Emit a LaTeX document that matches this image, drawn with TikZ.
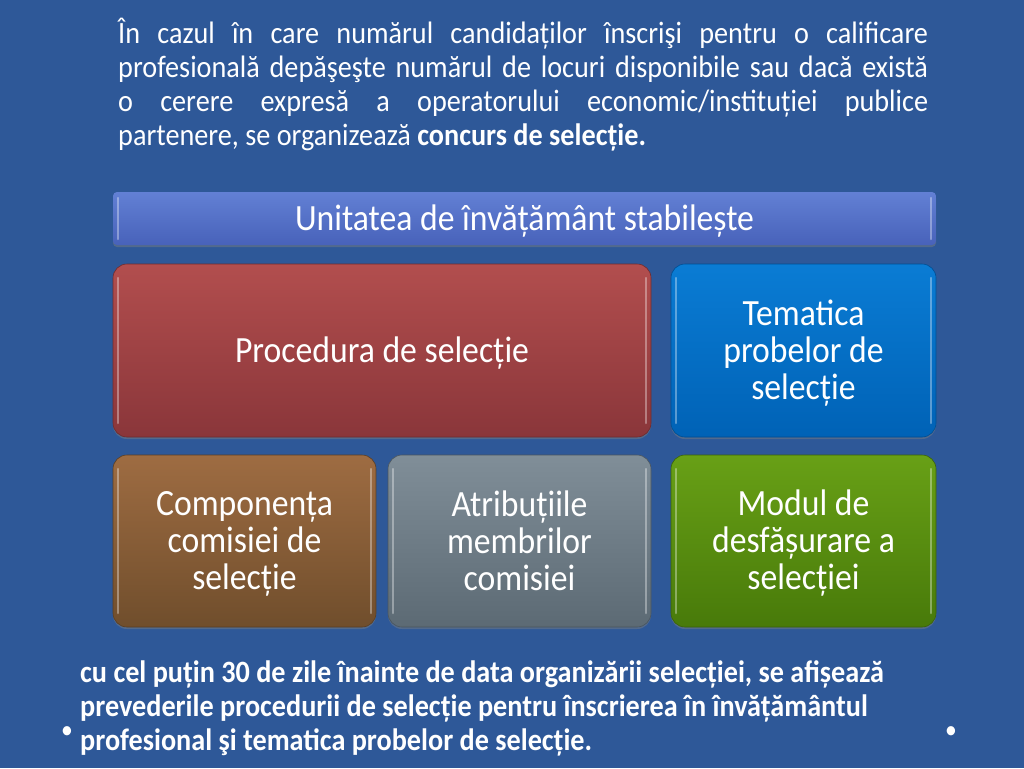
\documentclass[tikz,border=0pt]{standalone}
\usepackage{fontspec}
\setmainfont{Carlito}[FakeStretch=0.91]
\usetikzlibrary{shadows}
\newcommand{\topstr}{\rule{0pt}{30pt}}
\newcommand{\botstr}{\rule[-6pt]{0pt}{6pt}}
\newcommand{\onestr}{\rule[-6pt]{0pt}{36pt}}
\definecolor{bg}{RGB}{46,88,152}
\definecolor{hdrT}{RGB}{98,128,212}
\definecolor{hdrB}{RGB}{72,98,186}
\definecolor{redT}{RGB}{178,78,78}
\definecolor{redB}{RGB}{138,54,58}
\definecolor{bluT}{RGB}{10,124,212}
\definecolor{bluB}{RGB}{0,98,182}
\definecolor{brnT}{RGB}{158,108,66}
\definecolor{brnB}{RGB}{112,78,44}
\definecolor{gryT}{RGB}{128,142,152}
\definecolor{gryB}{RGB}{92,106,116}
\definecolor{grnT}{RGB}{104,160,22}
\definecolor{grnB}{RGB}{72,122,10}
\tikzset{
  glint/.style={path picture={
    \draw[white, opacity=0.35, line width=2.5pt, line cap=round]
      ([xshift=5pt,yshift=-#1]path picture bounding box.north west) --
      ([xshift=5pt,yshift=#1]path picture bounding box.south west);
    \draw[white, opacity=0.35, line width=2.5pt, line cap=round]
      ([xshift=-5pt,yshift=-#1]path picture bounding box.north east) --
      ([xshift=-5pt,yshift=#1]path picture bounding box.south east);}},
  boxbase/.style={rectangle, rounded corners=14pt, text=white, align=center,
    font=\fontsize{37}{37}\selectfont, inner sep=0pt, glint=14pt,
    drop shadow={opacity=0.45, shadow xshift=0pt, shadow yshift=-2pt}},
  hdrbox/.style={boxbase, rounded corners=4pt, top color=hdrT, bottom color=hdrB,
    minimum width=823pt, minimum height=53pt, glint=6pt},
  redbox/.style={boxbase, top color=redT, bottom color=redB, draw=redB!80!black, line width=0.6pt},
  blubox/.style={boxbase, top color=bluT, bottom color=bluB, draw=bluB!80!black, line width=0.6pt},
  brnbox/.style={boxbase, top color=brnT, bottom color=brnB, draw=brnB!80!black, line width=0.6pt},
  grybox/.style={boxbase, top color=gryT, bottom color=gryB, draw=gryB!80!black, line width=0.6pt},
  grnbox/.style={boxbase, top color=grnT, bottom color=grnB, draw=grnB!80!black, line width=0.6pt},
  para/.style={text=white, inner sep=0pt, anchor=north west}
}
\begin{document}
\begin{tikzpicture}[x=1pt,y=-1pt]
\fill[bg] (0,0) rectangle (1024,768);
\useasboundingbox (0,0) rectangle (1024,768);
\node[para, text width=810pt, align=justify, font=\fontsize{31}{34}\selectfont] (top) at (118,13)
 {\hyphenpenalty=10000\rule{0pt}{30pt}În cazul în care numărul candidaților înscrişi pentru o calificare\linebreak profesională depăşeşte numărul de locuri disponibile sau dacă există\linebreak o cerere expresă a operatorului economic/instituției publice\linebreak partenere, se organizează \textbf{concurs de selecție.}};
\node[hdrbox] (hdr) at (524.5,218.5) {\onestr Unitatea de învățământ stabilește};
\node[redbox, minimum width=538pt, minimum height=173pt] (proc) at (382,350.5) {\onestr Procedura de selecție};
\node[blubox, minimum width=265pt, minimum height=173pt] (tem) at (803.5,350.5) {\topstr Tematica\\probelor de\\selecție\botstr};
\node[brnbox, minimum width=263pt, minimum height=172pt] (comp) at (244.5,541) {\topstr Componența\\comisiei de\\selecție\botstr};
\node[grybox, minimum width=263pt, minimum height=172pt] (atr) at (519.5,541) {\topstr Atribuțiile\\membrilor\\comisiei\botstr};
\node[grnbox, minimum width=265pt, minimum height=172pt] (mod) at (803.5,541) {\topstr Modul de\\desfășurare a\\selecției\botstr};
\node[para, align=left, font=\bfseries\fontsize{31}{34}\selectfont] (bot) at (80,652)
 {\rule{0pt}{30pt}cu cel puțin 30 de zile înainte de data organizării selecției, se afișează\\prevederile procedurii de selecție pentru înscrierea în învățământul\\profesional şi tematica probelor de selecție.};
\node[text=white, font=\fontsize{26}{26}\selectfont, inner sep=0pt] (b1) at (67,733) {•};
\node[text=white, font=\fontsize{26}{26}\selectfont, inner sep=0pt] (b2) at (951,733) {•};
\end{tikzpicture}
\end{document}
